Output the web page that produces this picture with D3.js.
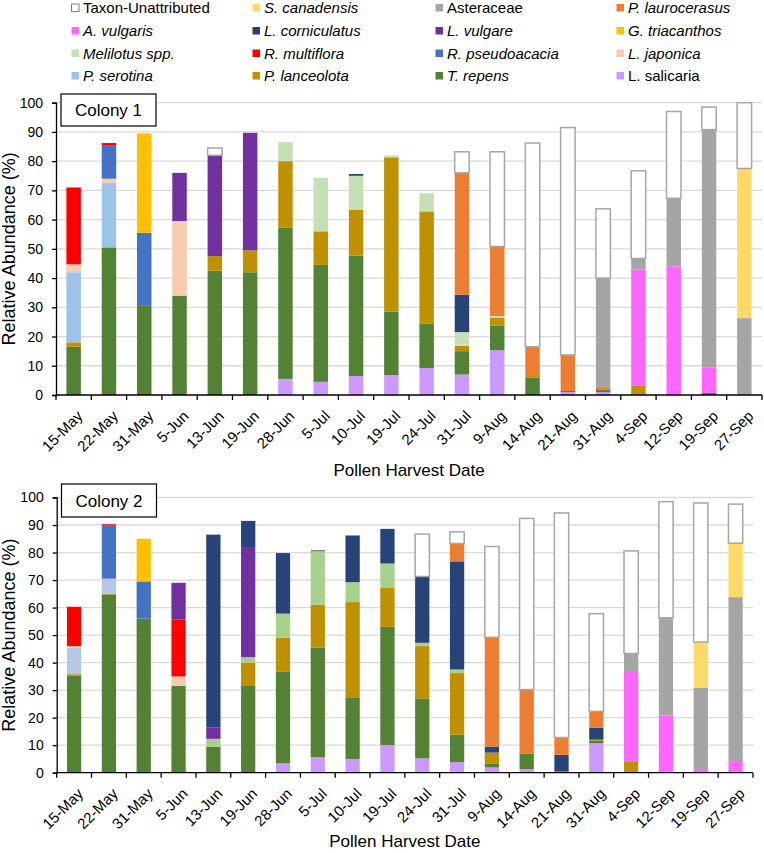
<!DOCTYPE html>
<html>
<head>
<meta charset="utf-8">
<script src="https://cdnjs.cloudflare.com/ajax/libs/d3/7.8.5/d3.min.js"></script>
<style>
  body { margin: 0; background: #fff; }
  text { font-family: "Liberation Sans", Arial, sans-serif; fill: #000; }
</style>
</head>
<body>
<script>
var width = 764;
var height = 853;

var dates = ["15-May", "22-May", "31-May", "5-Jun", "13-Jun", "19-Jun", "28-Jun", "5-Jul",
  "10-Jul", "19-Jul", "24-Jul", "31-Jul", "9-Aug", "14-Aug", "21-Aug", "31-Aug",
  "4-Sep", "12-Sep", "19-Sep", "27-Sep"];

// stacking order, bottom to top
var taxa = ["L. salicaria", "T. repens", "P. lanceolota", "P. serotina", "L. japonica",
  "R. pseudoacacia", "R. multiflora", "Melilotus spp.", "G. triacanthos", "L. vulgare",
  "L. corniculatus", "A. vulgaris", "P. laurocerasus", "Asteraceae", "S. canadensis",
  "Taxon-Unattributed"];

var colours = ["#CC99FF", "#548235", "#BF9000", "#9DC3E6", "#F8CBAD",
  "#4472C4", "#FF0000", "#C5E0B4", "#FFC000", "#7030A0",
  "#264478", "#FF66FF", "#ED7D31", "#A5A5A5", "#FFD966",
  "#FFFFFF"];

var colony2Colours = { "Melilotus spp.": "#A9D18E", "P. serotina": "#B4C7E7" };

var upright = ["Taxon-Unattributed", "Asteraceae", "L. salicaria"];

// one row per taxon (same order as taxa), one value per date
var colony1 = [
  [0, 0, 0, 0, 0, 0, 5.5, 4.5, 6.5, 6.8, 9.2, 7, 15.3, 0, 1, 1, 0, 0, 0, 0],
  [16.5, 50.5, 30.5, 34, 42.5, 42, 51.7, 40, 41.2, 21.7, 15.3, 8, 8.5, 6, 0, 0.7, 0, 0, 0.7, 0],
  [1.5, 0, 0, 0, 5, 7.5, 22.8, 11.5, 15.6, 52.8, 38.3, 1.8, 2.7, 0.5, 0, 0.3, 3.3, 0, 0, 0],
  [24, 22, 0, 0, 0, 0, 0, 0, 0, 0, 0, 0, 0, 0, 0, 0, 0, 0, 0, 0],
  [2.7, 1.5, 0, 25.5, 0, 0, 0, 0, 0, 0, 0, 0.4, 0, 0, 0, 0, 0, 0, 0, 0],
  [0, 11.5, 25, 0, 0, 0, 0, 0, 0, 0, 0, 0, 0, 0, 0, 0, 0, 0, 0, 0],
  [26.3, 0.7, 0, 0, 0, 0, 0, 0, 0, 0, 0, 0, 0, 0, 0, 0, 0, 0, 0, 0],
  [0, 0, 0, 0, 0, 0, 6.5, 18.3, 11.7, 0.7, 6.2, 4.3, 0.5, 0, 0, 0, 0, 0, 0, 0],
  [0, 0, 34, 0, 0, 0, 0, 0, 0, 0, 0, 0, 0, 0, 0, 0, 0, 0, 0, 0],
  [0, 0, 0, 16.5, 34.5, 40.2, 0, 0, 0, 0, 0, 0, 0, 0, 0, 0, 0, 0, 0, 0],
  [0, 0, 0, 0, 0, 0, 0, 0, 0.6, 0, 0, 12.8, 0, 0, 0.3, 0, 0, 0, 0, 0],
  [0, 0, 0, 0, 0, 0, 0, 0, 0, 0, 0, 0, 0, 0, 0, 0, 39.7, 44, 8.8, 0],
  [0, 0, 0, 0, 0, 0, 0, 0, 0, 0, 0, 41.7, 23.8, 10, 12.4, 0.7, 0, 0, 0, 0],
  [0, 0, 0, 0, 0, 0, 0, 0, 0, 0, 0, 0, 0, 0, 0, 37.3, 3.7, 23.3, 81.3, 26.3],
  [0, 0, 0, 0, 0, 0, 0, 0, 0, 0, 0, 0, 0, 0, 0, 0, 0, 0, 0, 51.2],
  [0, 0, 0, 0, 2.5, 0, 0, 0, 0, 0, 0, 7.2, 32.4, 69.7, 77.8, 23.7, 30, 29.7, 7.7, 22.5]
];

var colony2 = [
  [0, 0, 0, 0, 0, 0, 3.4, 5.6, 5, 10, 5.2, 3.8, 1.9, 1.3, 0, 10.7, 0, 0, 0, 0],
  [35.2, 64.8, 56, 31.6, 9.5, 31.5, 33.4, 39.8, 22.4, 43, 21.8, 10, 1.5, 5.7, 0.5, 0.9, 0, 0.3, 0, 0],
  [0.6, 0.2, 0, 0, 0, 8.5, 12.2, 15.6, 34.6, 14.3, 19, 22.4, 3.9, 0, 0, 0.4, 3.9, 0, 0, 0],
  [9.7, 5.5, 0, 0, 0, 0, 0, 0, 0, 0, 0, 0, 0, 0, 0, 0, 0, 0, 0, 0],
  [0.5, 0, 0, 3.4, 0, 0, 0, 0, 0, 0, 0, 0, 0, 0, 0, 0, 0, 0, 0, 0],
  [0, 19.3, 13.5, 0, 0, 0, 0, 0, 0, 0, 0, 0, 0, 0, 0, 0, 0, 0, 0, 0],
  [14.3, 0.5, 0, 20.7, 0, 0, 0, 0, 0, 0, 0, 0, 0, 0, 0, 0, 0, 0, 0, 0],
  [0, 0, 0, 0, 2.8, 2, 8.8, 19.5, 7.2, 8.7, 1.2, 1.3, 0, 0, 0, 0, 0, 0, 0, 0],
  [0, 0, 15.5, 0, 0, 0, 0, 0, 0, 0, 0, 0, 0, 0, 0, 0, 0, 0, 0, 0],
  [0, 0, 0, 13.3, 4.2, 40, 0, 0, 0, 0, 0, 0, 0, 0, 0, 0, 0, 0, 0, 0],
  [0, 0, 0, 0, 70, 9.5, 22, 0.3, 17, 12.6, 24.1, 39.3, 2.2, 0, 6, 4.3, 0, 0, 0, 0],
  [0, 0, 0, 0, 0, 0, 0, 0, 0, 0, 0, 0, 0, 0, 0, 0, 32.7, 20.5, 1, 3.9],
  [0, 0, 0, 0, 0, 0, 0, 0, 0, 0, 0, 6.5, 39.7, 23.2, 6.3, 6, 0, 0, 0, 0],
  [0, 0, 0, 0, 0, 0, 0, 0, 0, 0, 0, 0, 0, 0, 0, 0, 6.7, 35.5, 29.8, 59.9],
  [0, 0, 0, 0, 0, 0, 0, 0, 0, 0, 0, 0, 0, 0, 0, 0, 0, 0, 16.7, 19.6],
  [0, 0, 0, 0, 0, 0, 0, 0, 0, 0, 15.4, 4.2, 33, 62.2, 81.6, 35.5, 37.3, 42.2, 50.5, 14.2]
];

var yTicks = d3.range(0, 101, 10);

var svg = d3.select("body")
  .append("svg")
  .attr("width", width)
  .attr("height", height);

// legend, read row by row from the top of the stack down
var legendCols = [71, 252, 435, 616];
var legendRows = [8, 31, 53.5, 76];
var legendOrder = taxa.slice().reverse();

var legend = svg.append("g");
legendOrder.forEach(function(name, k) {
  var gx = legendCols[k % 4], gy = legendRows[Math.floor(k / 4)];
  var i = taxa.indexOf(name);
  legend.append("rect")
    .attr("x", gx + 0.5)
    .attr("y", gy - 4)
    .attr("width", 7.5)
    .attr("height", 7.5)
    .style("fill", colours[i])
    .style("stroke", name == "Taxon-Unattributed" ? "#7f7f7f" : "none")
    .style("stroke-width", 1);
  legend.append("text")
    .attr("x", gx + 12)
    .attr("y", gy)
    .attr("dy", "0.36em")
    .style("font-size", "15px")
    .style("font-style", upright.indexOf(name) >= 0 ? "normal" : "italic")
    .text(name);
});

drawPanel({ values: colony1, label: "Colony 1", x0: 56, x1: 762, yTop: 102.7, yBase: 395,
  box: [61, 94, 95, 32], titleY: 476, altColours: {} });
drawPanel({ values: colony2, label: "Colony 2", x0: 56.7, x1: 753, yTop: 497.5, yBase: 772.7,
  box: [61.5, 484, 95, 33], titleY: 847, altColours: colony2Colours });

function drawPanel (p) {
  var g = svg.append("g");

  var x = d3.scaleBand()
    .domain(dates)
    .range([p.x0, p.x1])
    .paddingInner(0.59)
    .paddingOuter(0.295);

  var y = d3.scaleLinear()
    .domain([0, 100])
    .range([p.yBase, p.yTop]);

  // gridlines
  g.selectAll(".grid")
    .data(yTicks.slice(1))
    .enter().append("line")
    .attr("x1", p.x0)
    .attr("x2", p.x1)
    .attr("y1", function(d) { return y(d); })
    .attr("y2", function(d) { return y(d); })
    .style("stroke", "#d9d9d9")
    .style("stroke-width", 1.3);

  var rows = dates.map(function(d, j) {
    var r = { date: d };
    taxa.forEach(function(t, i) { r[t] = p.values[i][j]; });
    return r;
  });

  var series = d3.stack().keys(taxa)(rows);

  g.selectAll(".layer")
    .data(series)
    .enter().append("g")
    .each(function(s) {
      var i = taxa.indexOf(s.key);
      var fill = p.altColours[s.key] || colours[i];
      var isTaxon = s.key == "Taxon-Unattributed";
      d3.select(this).selectAll("rect")
        .data(s.filter(function(d) { return d[1] - d[0] > 0; }))
        .enter().append("rect")
        .attr("x", function(d) { return x(d.data.date); })
        .attr("width", x.bandwidth())
        .attr("y", function(d) { return y(d[1]); })
        .attr("height", function(d) { return y(d[0]) - y(d[1]); })
        .style("fill", fill)
        .style("stroke", isTaxon ? "#a6a6a6" : "none")
        .style("stroke-width", isTaxon ? 1.5 : 0);
    });

  // y axis
  var yAxis = g.append("g")
    .attr("transform", "translate(" + p.x0 + ",0)")
    .call(d3.axisLeft(y).tickValues(yTicks).tickSize(4).tickPadding(9));
  yAxis.select(".domain").style("stroke", "#000").style("stroke-width", 1.3);
  yAxis.selectAll(".tick line").style("stroke", "#000").style("stroke-width", 1.3);
  yAxis.selectAll("text")
    .style("font-size", "14px")
    .style("font-family", "'Liberation Sans', Arial, sans-serif")
    .attr("fill", "#000");

  // x axis: line, ticks between categories, rotated labels
  g.append("line")
    .attr("x1", p.x0)
    .attr("x2", p.x1)
    .attr("y1", p.yBase)
    .attr("y2", p.yBase)
    .style("stroke", "#000")
    .style("stroke-width", 1.3);

  g.selectAll(".xtick")
    .data(d3.range(dates.length + 1))
    .enter().append("line")
    .attr("x1", function(i) { return p.x0 + i * x.step(); })
    .attr("x2", function(i) { return p.x0 + i * x.step(); })
    .attr("y1", p.yBase)
    .attr("y2", p.yBase + 5)
    .style("stroke", "#000")
    .style("stroke-width", 1.3);

  g.selectAll(".xlabel")
    .data(dates)
    .enter().append("text")
    .attr("transform", function(d) {
      var cx = x(d) + x.bandwidth() / 2;
      return "translate(" + (cx + 10) + "," + (p.yBase + 22) + ") rotate(-45)";
    })
    .style("text-anchor", "end")
    .style("font-size", "15px")
    .text(function(d) { return d; });

  // axis titles
  g.append("text")
    .attr("x", (p.x0 + p.x1) / 2)
    .attr("y", p.titleY)
    .style("text-anchor", "middle")
    .style("font-size", "17px")
    .text("Pollen Harvest Date");

  g.append("text")
    .attr("transform", "translate(15," + (p.yTop + p.yBase) / 2 + ") rotate(-90)")
    .style("text-anchor", "middle")
    .style("font-size", "18px")
    .text("Relative Abundance (%)");

  // colony label box
  g.append("rect")
    .attr("x", p.box[0])
    .attr("y", p.box[1])
    .attr("width", p.box[2])
    .attr("height", p.box[3])
    .style("fill", "#fff")
    .style("stroke", "#000")
    .style("stroke-width", 1.2);

  g.append("text")
    .attr("x", p.box[0] + p.box[2] / 2)
    .attr("y", p.box[1] + p.box[3] / 2)
    .attr("dy", "0.36em")
    .style("text-anchor", "middle")
    .style("font-size", "17px")
    .text(p.label);
}
</script>
</body>
</html>
